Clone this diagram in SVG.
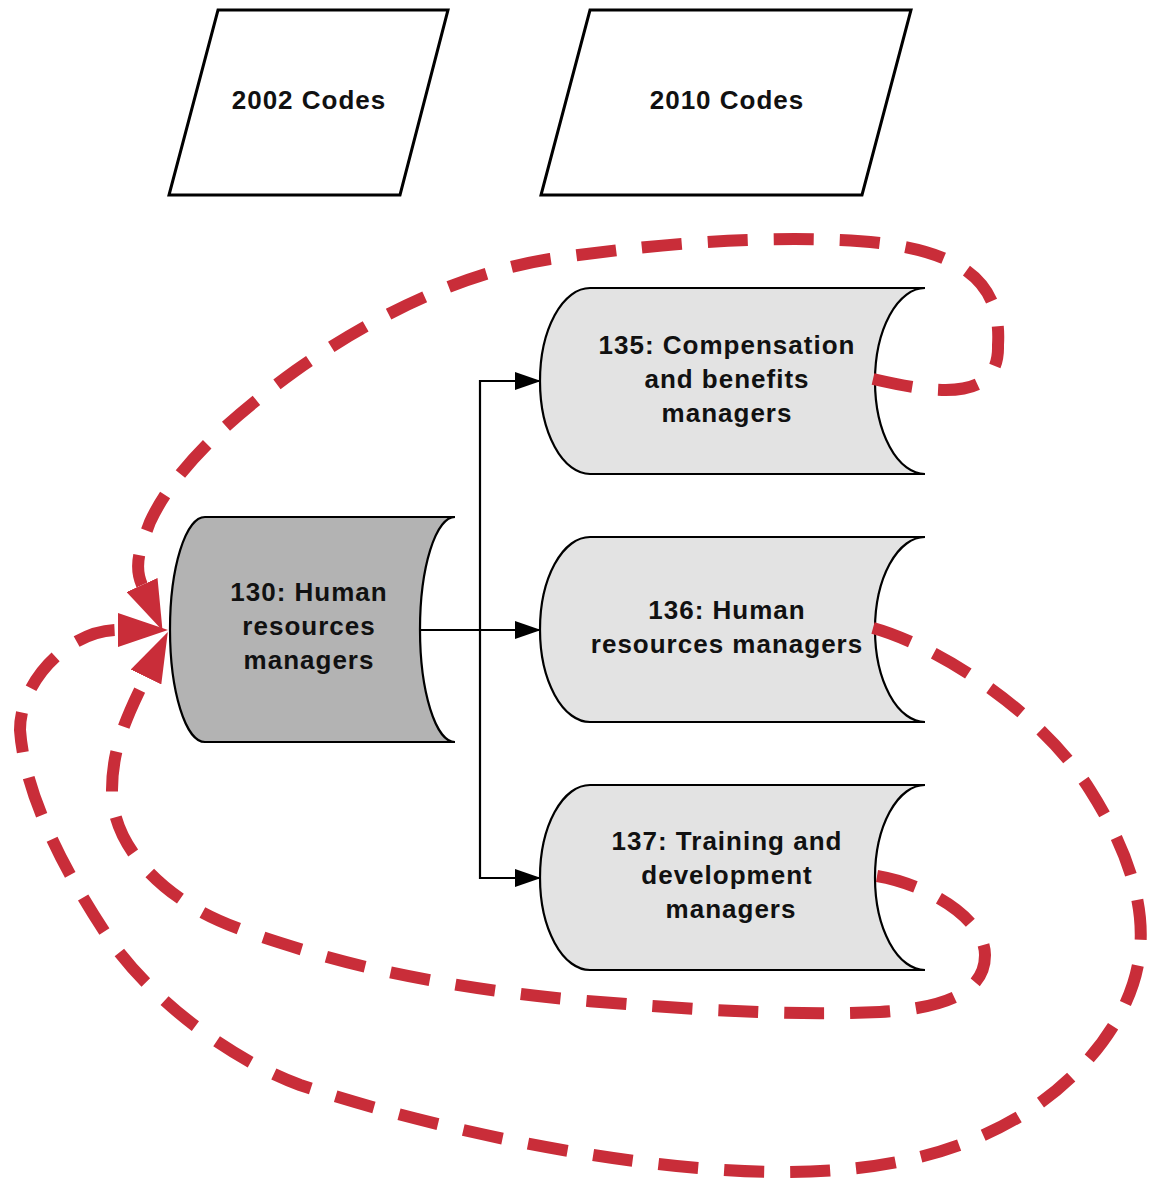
<svg xmlns="http://www.w3.org/2000/svg" width="1149" height="1182" viewBox="0 0 1149 1182">
<style>
.io{fill:#ffffff;stroke:#000;stroke-width:3}
.node{stroke:#000;stroke-width:2.2}
.dark{fill:#b3b3b3}
.light{fill:#e3e3e3}
.t{font-family:"Liberation Sans",Arial,Helvetica,sans-serif;font-weight:bold;font-size:26px;letter-spacing:1px;fill:#111;text-anchor:middle}
.flow{fill:none;stroke:#000;stroke-width:2.2}
.loop{fill:none;stroke:#c92d39;stroke-width:12;stroke-dasharray:40 26}
</style>
<defs>
<marker id="ab" markerUnits="userSpaceOnUse" viewBox="0 0 26 18" markerWidth="26" markerHeight="18" refX="25" refY="9" orient="auto">
<path d="M0,0 L26,9 L0,18 Z" fill="#000"/>
</marker>
<marker id="ar" markerUnits="userSpaceOnUse" viewBox="0 0 50 34" markerWidth="50" markerHeight="34" refX="0" refY="17" orient="auto">
<path d="M0,0 L50,17 L0,34 Z" fill="#c92d39"/>
</marker>
</defs>

<g id="codes2002">
<polygon class="io" points="218,10 448,10 400,195 169,195"/>
<text class="t" x="309" y="109">2002 Codes</text>
</g>
<g id="codes2010">
<polygon class="io" points="590,10 911,10 862,195 541,195"/>
<text class="t" x="727" y="109">2010 Codes</text>
</g>

<g id="n130">
<path class="node dark" d="M205,517 L455,517 A35,112.5 0 0 0 455,742 L205,742 A35,112.5 0 0 1 205,517 Z"/>
<text class="t" x="309" y="601">130: Human</text>
<text class="t" x="309" y="635">resources</text>
<text class="t" x="309" y="669">managers</text>
</g>

<g id="n135">
<path class="node light" d="M590,288 L925,288 A50,93 0 0 0 925,474 L590,474 A50,93 0 0 1 590,288 Z"/>
<text class="t" x="727" y="354">135: Compensation</text>
<text class="t" x="727" y="388">and benefits</text>
<text class="t" x="727" y="422">managers</text>
</g>

<g id="n136">
<path class="node light" d="M590,537 L925,537 A50,92.5 0 0 0 925,722 L590,722 A50,92.5 0 0 1 590,537 Z"/>
<text class="t" x="727" y="619">136: Human</text>
<text class="t" x="727" y="653">resources managers</text>
</g>

<g id="n137">
<path class="node light" d="M590,785 L925,785 A50,92.5 0 0 0 925,970 L590,970 A50,92.5 0 0 1 590,785 Z"/>
<text class="t" x="727" y="850">137: Training and</text>
<text class="t" x="727" y="884">development</text>
<text class="t" x="731" y="918">managers</text>
</g>

<g id="connectors">
<path class="flow" d="M421,630 L540,630" marker-end="url(#ab)"/>
<path class="flow" d="M480,630 L480,381 L540,381" marker-end="url(#ab)"/>
<path class="flow" d="M480,630 L480,878 L540,878" marker-end="url(#ab)"/>

<path class="loop" marker-end="url(#ar)" d="M873,379 C930,392 1000,405 998,345 C1002,280 960,245 840,240 C740,236 640,246 550,259 C460,273 370,318 295,371 C230,418 175,468 150,522 C141,546 133,565 142,585"/>
<path class="loop" marker-end="url(#ar)" d="M873,628 C935,645 1040,710 1090,790 C1125,845 1145,900 1140,950 C1135,1010 1090,1070 1030,1110 C960,1155 880,1172 780,1172 C650,1172 450,1135 300,1085 C240,1063 160,1010 110,940 C70,880 25,800 20,730 C20,680 70,630 118,630"/>
<path class="loop" marker-end="url(#ar)" d="M877,876 C930,885 985,920 985,955 C985,990 950,1008 880,1012 C790,1016 700,1010 600,1002 C500,994 400,978 320,955 C270,940 220,925 190,905 C150,880 112,840 112,790 C112,745 130,710 146,677"/>
</g>
</svg>
